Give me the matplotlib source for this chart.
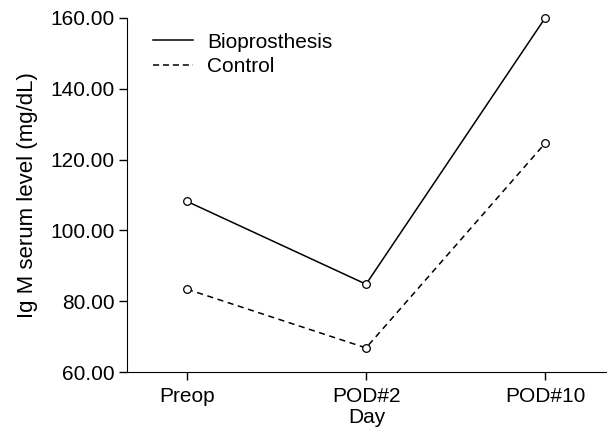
import matplotlib
matplotlib.use("Agg")
import matplotlib.pyplot as plt
from matplotlib.lines import Line2D

plt.rcParams['font.family'] = ['Liberation Sans', 'DejaVu Sans']

days = ["Preop", "POD#2", "POD#10"]
bioprosthesis = [108.2, 84.8, 160.0]
control = [83.4, 66.8, 124.6]

fig = plt.figure(figsize=(6.08, 4.34), dpi=100)
ax = fig.add_axes([127/608, 1 - 372/434, (606-127)/608, (372-18)/434])

x = list(range(len(days)))
ax.plot(x, bioprosthesis, '-', color='black', lw=1.1, marker='o', ms=5.5,
        mfc='white', mec='black', mew=0.9, clip_on=False)
ax.plot(x, control, '--', color='black', lw=1.1, marker='o', ms=5.5,
        mfc='white', mec='black', mew=0.9, dashes=(4, 3), clip_on=False)

ax.set_xlim(-0.335, 2.34)
ax.set_ylim(60, 160)
ax.set_yticks([60, 80, 100, 120, 140, 160])
ax.set_yticklabels([f"{v:.2f}" for v in [60, 80, 100, 120, 140, 160]])
ax.set_xticks(x)
ax.set_xticklabels(days)
for s in ['top', 'right']:
    ax.spines[s].set_visible(False)
ax.tick_params(direction='out', length=6, width=1, labelsize=15)
ax.tick_params(axis='y', pad=3)
ax.tick_params(axis='x', pad=5)
ax.set_xlabel("Day", fontsize=15, labelpad=1)
ax.set_ylabel("Ig M serum level (mg/dL)", fontsize=16, labelpad=9)

handles = [Line2D([], [], color='black', lw=1.1, ls='-'),
           Line2D([], [], color='black', lw=1.1, ls='--', dashes=(4, 2.5))]
ax.legend(handles, ["Bioprosthesis", "Control"], loc='upper left', frameon=False,
          fontsize=15, handlelength=1.95, handletextpad=0.65, labelspacing=0.28,
          borderpad=0, borderaxespad=0, bbox_to_anchor=(0.054, 0.959))

fig.savefig("out.png", dpi=100)
